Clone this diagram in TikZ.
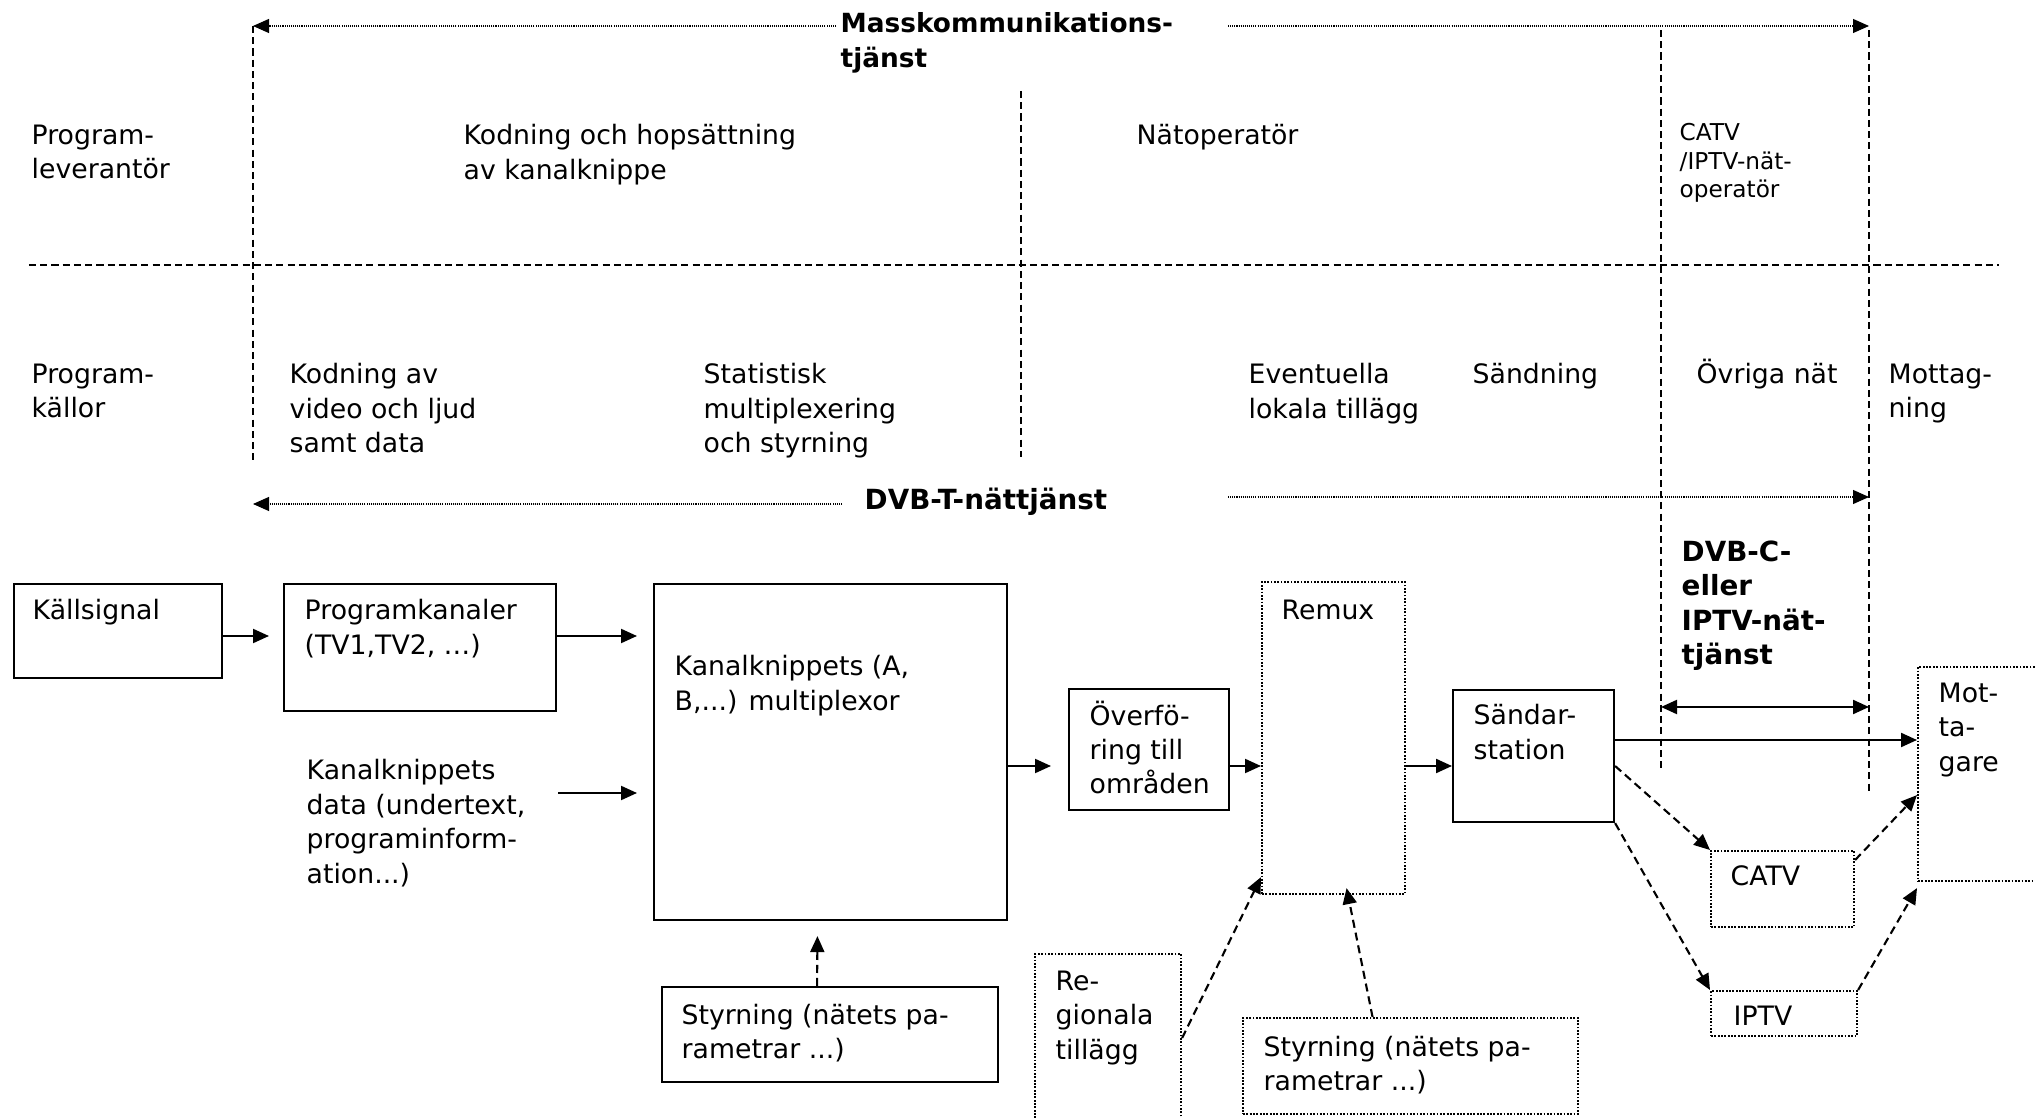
\documentclass[tikz,border=0pt]{standalone}
\usepackage{fontspec}
\setmainfont{DejaVu Sans}
\usetikzlibrary{arrows.meta,positioning}

\tikzset{
  txt/.style={inner sep=0pt, anchor=north west, align=left, font=\fontsize{7.6}{9.8}\selectfont},
  smalltxt/.style={txt, font=\fontsize{6.6}{8.1}\selectfont},
  headtxt/.style={txt, font=\fontsize{7.9}{9.8}\selectfont\bfseries},
  box/.style={draw, line width=0.6pt, anchor=north west, inner sep=0pt},
  dotbox/.style={box, dash pattern=on 0.5pt off 0.45pt},
  divline/.style={line width=0.45pt, dash pattern=on 2pt off 1.2pt},
  arr/.style={line width=0.6pt, ->},
  dblarr/.style={line width=0.6pt, <->},
  dasharr/.style={arr, dash pattern=on 2.3pt off 1.4pt},
  dotarr/.style={line width=0.3pt, dash pattern=on 0.3pt off 0.3pt, ->},
}

\begin{document}
\begin{tikzpicture}[>={Triangle[length=1.6mm,width=1.4mm]}]
\useasboundingbox (0,0) rectangle (20.35,-11.18);

% dividing lines
\coordinate (v1t) at (2.53,-0.26);
\coordinate (v1b) at (2.53,-4.60);
\coordinate (v2t) at (10.21,-0.91);
\coordinate (v2b) at (10.21,-4.57);
\coordinate (v4t) at (16.61,-0.30);
\coordinate (v4b) at (16.61,-7.70);
\coordinate (v5t) at (18.69,-0.30);
\coordinate (v5b) at (18.69,-7.92);
\coordinate (h1) at (0.29,-2.65);
\coordinate (h2) at (19.99,-2.65);
\draw[divline] (v1t) -- (v1b);
\draw[divline] (v2t) -- (v2b);
\draw[divline] (v4t) -- (v4b);
\draw[divline] (v5t) -- (v5b);
\draw[divline] (h1) -- (h2);

% labels
\node[headtxt, font=\fontsize{7.5}{9.8}\selectfont\bfseries] (mass) at (8.40,-0.12) {Masskommunikations-\\tjänst};
\node[txt] (lev) at (0.31,-1.24) {Program-\\leverantör};
\node[txt] (kodhop) at (4.63,-1.24) {Kodning och hopsättning\\av kanalknippe};
\node[txt] (natop) at (11.36,-1.24) {Nätoperatör};
\node[smalltxt] (catvop) at (16.79,-1.23) {CATV\\/IPTV-nät-\\operatör};
\node[txt] (kallor) at (0.31,-3.63) {Program-\\källor};
\node[txt] (kodav) at (2.89,-3.63) {Kodning av\\video och ljud\\samt data};
\node[txt] (stat) at (7.03,-3.63) {Statistisk\\multiplexering\\och styrning};
\node[txt] (event) at (12.48,-3.63) {Eventuella\\lokala tillägg};
\node[txt] (sandn) at (14.72,-3.63) {Sändning};
\node[txt] (ovriga) at (16.96,-3.58) {Övriga nät};
\node[txt] (mottn) at (18.88,-3.63) {Mottag-\\ning};
\node[headtxt, anchor=west] (dvbt) at (8.64,-5.02) {DVB-T-nättjänst};
\node[headtxt] (dvbc) at (16.81,-5.40) {DVB-C-\\eller\\IPTV-nät-\\tjänst};
\node[txt] (data) at (3.06,-7.59) {Kanalknippets\\data (undertext,\\programinform-\\ation...)};

% service arrows
\coordinate (massl) at (8.36,-0.26);
\coordinate (massr) at (12.28,-0.26);
\coordinate (dvbtl) at (8.42,-5.04);
\coordinate (dvbtr) at (12.28,-4.97);
\coordinate (dvbcrow) at (0,-7.07);
\draw[dotarr] (massl) -- (massl -| v1t);
\draw[dotarr] (massr) -- (massr -| v5t);
\draw[dotarr] (dvbtl) -- (dvbtl -| v1t);
\draw[dotarr] (dvbtr) -- (dvbtr -| v5t);
\draw[dblarr] (v4t |- dvbcrow) -- (v5t |- dvbcrow);

% boxes
\node[box, minimum width=2.08cm, minimum height=0.94cm] (kall) at (0.13,-5.83) {};
\node[box, minimum width=2.72cm, minimum height=1.27cm] (prog) at (2.83,-5.83) {};
\node[box, minimum width=3.53cm, minimum height=3.36cm] (kk) at (6.53,-5.83) {};
\node[box, minimum width=1.60cm, minimum height=1.21cm] (ov) at (10.68,-6.88) {};
\node[dotbox, minimum width=1.43cm, minimum height=3.12cm] (remux) at (12.61,-5.81) {};
\node[box, minimum width=1.61cm, minimum height=1.32cm] (sand) at (14.52,-6.89) {};
\node[dotbox, minimum width=1.50cm, minimum height=2.14cm] (mott) at (19.17,-6.66) {};
\node[dotbox, minimum width=1.43cm, minimum height=0.76cm] (catv) at (17.10,-8.50) {};
\node[dotbox, minimum width=1.46cm, minimum height=0.45cm] (iptv) at (17.10,-9.90) {};
\node[dotbox, minimum width=1.46cm, minimum height=2.00cm] (reg) at (10.34,-9.53) {};
\node[box, minimum width=3.36cm, minimum height=0.95cm] (styr1) at (6.61,-9.86) {};
\node[dotbox, minimum width=3.35cm, minimum height=0.96cm] (styr2) at (12.42,-10.17) {};

\node[txt, below right=0.16cm and 0.19cm of kall.north west] (kallT) {Källsignal};
\node[txt, below right=0.16cm and 0.21cm of prog.north west] (progT) {Programkanaler\\(TV1,TV2, …)};
\node[txt, below right=0.72cm and 0.21cm of kk.north west] (kkT) {Kanalknippets (A,\\B,...) multiplexor};
\node[txt, below right=0.12cm and 0.21cm of ov.north west] (ovT) {Överfö-\\ring till\\områden};
\node[txt, below right=0.18cm and 0.20cm of remux.north west] (remuxT) {Remux};
\node[txt, below right=0.15cm and 0.21cm of sand.north west] (sandT) {Sändar-\\station};
\node[txt, below right=0.16cm and 0.21cm of mott.north west] (mottT) {Mot-\\ta-\\gare};
\node[txt, below right=0.15cm and 0.20cm of catv.north west] (catvT) {CATV};
\node[txt, below right=0.15cm and 0.23cm of iptv.north west] (iptvT) {IPTV};
\node[txt, below right=0.17cm and 0.21cm of reg.north west] (regT) {Re-\\gionala\\tillägg};
\node[txt, below right=0.17cm and 0.20cm of styr1.north west] (styr1T) {Styrning (nätets pa-\\rametrar ...)};
\node[txt, below right=0.18cm and 0.21cm of styr2.north west] (styr2T) {Styrning (nätets pa-\\rametrar ...)};

% flow
\coordinate (toprow) at (0,-6.36);
\coordinate (datarow) at (5.58,-7.93);
\coordinate (flow) at (0,-7.66);
\coordinate (mottrow) at (0,-7.40);
\draw[arr, shorten >=1.4mm] (kall.east |- toprow) -- (prog.west |- toprow);
\draw[arr, shorten >=1.6mm] (prog.east |- toprow) -- (kk.west |- toprow);
\draw[arr, shorten >=1.6mm] (datarow) -- (datarow -| kk.west);
\draw[arr, shorten >=1.7mm] (kk.east |- flow) -- (ov.west |- flow);
\draw[arr] (ov.east |- flow) -- (remux.west |- flow);
\draw[arr] (remux.east |- flow) -- (sand.west |- flow);
\draw[arr] (sand.east |- mottrow) -- (mott.west |- mottrow);
\draw[dasharr] (sand.east |- flow) -- (catv.north west);
\draw[dasharr] (sand.south east) -- (iptv.north west);
\draw[dasharr] ([yshift=-0.1cm]catv.north east) -- ([yshift=-0.21cm]mott.west);
\draw[dasharr] (iptv.north east) -- ([yshift=-0.06cm]mott.south west);
\draw[dasharr] ([yshift=-0.85cm]reg.north east) -- ([yshift=0.18cm]remux.south west);
\draw[dasharr] ([xshift=-0.38cm]styr2.north) -- ([xshift=0.13cm,yshift=0.07cm]remux.south);
\draw[dasharr, shorten >=1.5mm] ([xshift=-0.13cm]styr1.north) -- ([xshift=-0.13cm]kk.south);
\end{tikzpicture}
\end{document}
